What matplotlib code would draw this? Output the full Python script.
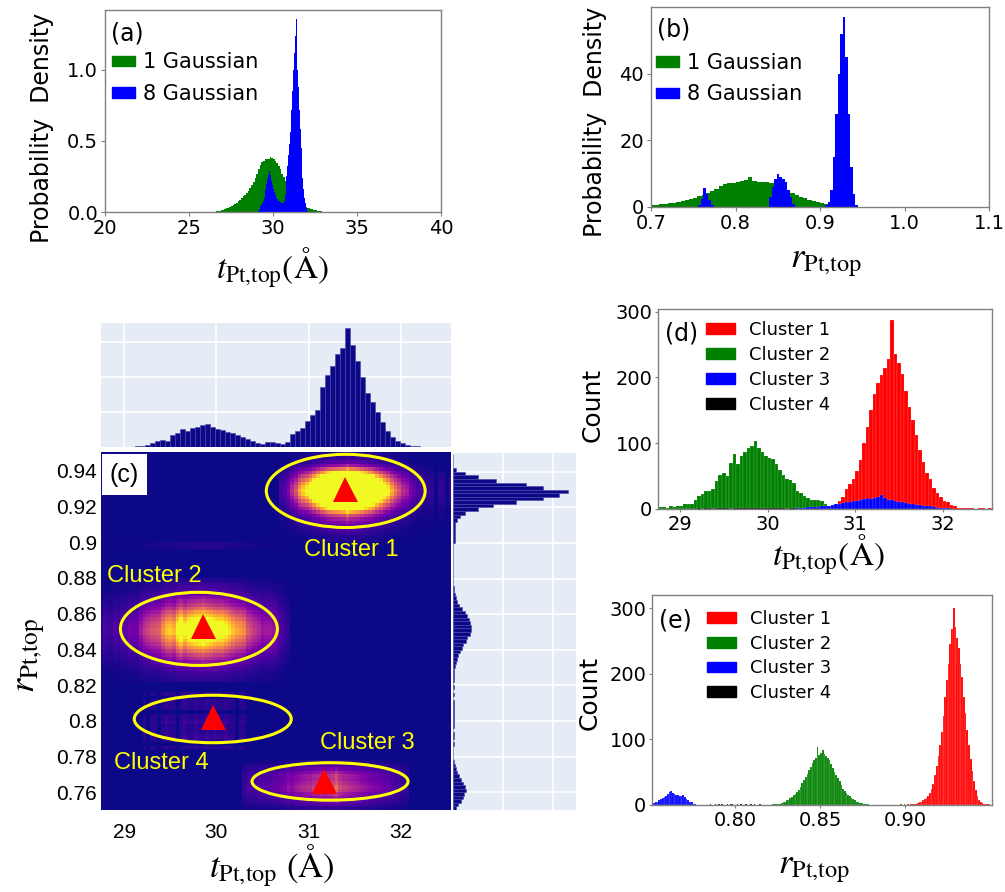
import numpy as np
import matplotlib
matplotlib.use("Agg")
import matplotlib.pyplot as plt
from matplotlib.colors import PowerNorm
from matplotlib.patches import Ellipse, Patch, Rectangle

# ---------------- data ----------------
# (a) probability density of t_Pt,top
A_GREEN_START, A_GREEN_BIN = 26.5, 0.1
a_green = [0.003, 0.004, 0.006, 0.008, 0.011, 0.015, 0.02, 0.025, 0.03, 0.035,
           0.04, 0.05, 0.058, 0.066, 0.075, 0.085, 0.1, 0.11, 0.12, 0.135,
           0.15, 0.17, 0.19, 0.21, 0.24, 0.27, 0.30, 0.33, 0.35, 0.36,
           0.37, 0.375, 0.37, 0.385, 0.38, 0.37, 0.36, 0.345, 0.32, 0.30,
           0.27, 0.245, 0.22, 0.20, 0.17, 0.15, 0.12, 0.10, 0.085, 0.07,
           0.06, 0.05, 0.045, 0.04, 0.035, 0.03, 0.025, 0.02, 0.018, 0.015,
           0.012, 0.01, 0.008, 0.005, 0.003]
A_BLUE_START, A_BLUE_BIN = 29.1, 0.05
a_blue = [0.01, 0.02, 0.03, 0.04, 0.05, 0.065, 0.08, 0.10, 0.13, 0.16,
          0.20, 0.23, 0.26, 0.29, 0.30, 0.26, 0.22, 0.19, 0.16, 0.14,
          0.12, 0.11, 0.10, 0.09, 0.08, 0.075, 0.07, 0.065, 0.06, 0.06,
          0.065, 0.08, 0.12, 0.18, 0.25, 0.32, 0.40, 0.48, 0.56, 0.64,
          0.72, 0.85, 1.00, 1.12, 1.24, 1.36, 1.20, 1.00, 0.88, 0.72,
          0.58, 0.45, 0.34, 0.24, 0.16, 0.10, 0.06, 0.03, 0.015, 0.005]

# (b) probability density of r_Pt,top
B_GREEN_START, B_GREEN_BIN = 0.700, 0.005
b_green = [0.5, 0.7, 0.9, 1.0, 1.1, 1.3, 1.5, 1.8, 2.1, 2.4,
           2.8, 3.2, 3.7, 4.2, 4.8, 5.5, 6.2, 6.8, 7.1, 7.3,
           7.5, 7.7, 8.0, 9.0, 7.8, 7.6, 7.5, 7.4, 7.2, 6.9,
           6.3, 5.6, 4.9, 4.2, 3.6, 3.1, 2.6, 2.2, 1.9, 1.6,
           1.2, 0.9, 0.6]
B_BLUE_START, B_BLUE_BIN = 0.750, 0.003
b_blue = ([0, 0, 0.5, 2.5, 5.7, 4.0, 2.0, 0.5] + [0] * 22 +
          [3.0, 6.0, 8.5, 10.0, 9.0, 8.5, 7.5, 5.0, 3.0, 1.0] + [0] * 12 +
          [0.5, 1.5, 5, 15, 28, 40, 52, 57, 45, 28, 12, 4, 0.5])

# (c) marginal histograms of the joint plot (in grid units)
TOP_START, TOP_BIN = 28.90, 0.0542
top_marg = [0.01, 0.01, 0.01, 0.01, 0.02, 0.03, 0.06, 0.12, 0.17, 0.19,
            0.17, 0.33, 0.39, 0.50, 0.45, 0.53, 0.58, 0.63, 0.65, 0.58,
            0.50, 0.48, 0.43, 0.40, 0.35, 0.28, 0.24, 0.17, 0.12, 0.08,
            0.14, 0.13, 0.10, 0.08, 0.15, 0.38, 0.45, 0.55, 0.75, 0.92,
            1.05, 1.70, 2.05, 2.30, 2.65, 2.82, 3.40, 2.90, 2.45, 2.00,
            1.55, 1.28, 1.00, 0.72, 0.45, 0.28, 0.17, 0.10, 0.05, 0.03,
            0.02, 0.01, 0.01]
RIGHT_START, RIGHT_BIN = 0.750, 0.002
right_marg = ([0.05, 0.10, 0.15, 0.20, 0.22, 0.25, 0.24, 0.20, 0.16, 0.12,
               0.08, 0.05, 0.03, 0.01, 0, 0, 0, 0, 0.01, 0,
               0.01, 0.01, 0, 0.01, 0.02, 0.01, 0.02, 0.01, 0.01, 0.02,
               0.01, 0, 0.01, 0, 0.01, 0, 0.01, 0.01, 0.01, 0.02,
               0.03, 0.05, 0.07, 0.10, 0.13, 0.17, 0.20, 0.25, 0.28, 0.33,
               0.35, 0.36, 0.34, 0.32, 0.28, 0.23, 0.17, 0.12, 0.08, 0.05,
               0.03, 0.02, 0.01] + [0] * 12 +
              [0.03, 0.03, 0.03, 0.03, 0.03, 0.03, 0.07, 0.13, 0.23, 0.50,
               0.80, 1.26, 1.79, 2.12, 2.30, 1.79, 1.46, 0.86, 0.50, 0.23,
               0.05, 0, 0, 0, 0])

# cluster centres, ellipses and labels in (c)
cl_names = ["Cluster 1", "Cluster 2", "Cluster 3", "Cluster 4"]
cl_tri_t = [31.39, 29.85, 31.17, 29.96]
cl_tri_r = [0.9297, 0.853, 0.766, 0.802]
cl_ell_t = [31.40, 29.81, 31.23, 29.96]
cl_ell_r = [0.9288, 0.8515, 0.766, 0.801]
cl_ell_w = [1.72, 1.70, 1.69, 1.70]
cl_ell_h = [0.041, 0.041, 0.021, 0.0266]
cl_lab_t = [30.95, 28.82, 31.12, 28.89]
cl_lab_r = [0.8955, 0.8810, 0.7877, 0.7764]

# (d) counts of t_Pt,top per cluster (bin 0.04)
D_BIN = 0.04
d_starts = [30.68, 28.76, 30.28, 29.20]
d_c1 = [2, 3, 6, 12, 18, 30, 38, 45, 58, 75,
        100, 125, 150, 175, 192, 203, 215, 228, 287, 235,
        222, 205, 180, 155, 135, 112, 90, 72, 55, 45,
        32, 24, 18, 12, 10, 6, 4, 2, 2, 1,
        1, 1, 0, 1, 1, 0, 1]
d_c2 = [3, 3, 2, 4, 3, 5, 5, 8, 7, 7,
        14, 20, 23, 27, 28, 30, 42, 52, 55, 50,
        70, 84, 68, 81, 86, 92, 96, 103, 93, 87,
        80, 77, 76, 68, 60, 52, 46, 44, 40, 28,
        24, 20, 17, 13, 14, 14, 12, 8, 4, 2, 1]
d_c3 = [1, 2, 2, 2, 3, 3, 3, 3, 4, 4,
        5, 6, 8, 7, 9, 10, 11, 12, 12, 14,
        15, 16, 15, 17, 18, 22, 16, 14, 13, 12,
        11, 10, 9, 8, 7, 6, 6, 5, 4, 4,
        3, 2, 2, 1, 1]
d_c4 = [1, 0, 1, 1, 0, 1, 2, 1, 1, 0, 1, 2, 1, 1, 2, 1, 1, 2, 1, 2,
        1, 1, 2, 1, 1, 0, 1, 1]

# (e) counts of r_Pt,top per cluster (bin 0.001)
E_BIN = 0.001
e_starts = [0.900, 0.822, 0.751, 0.785]
e_c1 = [0, 1, 0, 1, 1, 2, 2, 3, 4, 5,
        7, 9, 11, 14, 18, 24, 32, 45, 60, 75,
        92, 112, 135, 165, 190, 215, 245, 268, 300, 272,
        255, 240, 215, 195, 165, 140, 115, 92, 70, 52,
        36, 23, 14, 8, 5, 3, 2, 1, 1, 1]
e_c2 = [1, 1, 1, 2, 2, 3, 4, 5, 7, 8,
        10, 12, 15, 17, 20, 23, 28, 33, 38, 43,
        48, 53, 58, 64, 68, 72, 89, 76, 80, 84,
        78, 74, 72, 68, 62, 56, 51, 46, 41, 36,
        30, 25, 21, 18, 16, 13, 11, 9, 7, 5,
        4, 3, 3, 2, 2, 1, 1, 0, 0, 0,
        0, 0, 0, 0, 0, 0, 0, 0, 0, 0,
        0, 0, 0, 0, 0, 1, 0, 1, 0, 0]
e_c3 = [2, 3, 4, 5, 7, 9, 10, 12, 14, 17,
        20, 22, 18, 17, 16, 15, 13, 14, 15, 12,
        9, 7, 5, 4, 2, 1]
e_c4 = [1, 0, 0, 1, 0, 2, 0, 1, 0, 0, 1, 0, 1, 2, 0, 0, 1, 0, 1, 0,
        0, 1, 0, 0, 1, 0, 1, 0, 0, 1]

CLUSTER_COLORS = ["#ff0000", "#008000", "#0000ff", "#000000"]
GREEN = "#008000"
BLUE = "#0000ff"
NAVY = "#0d0887"
PLOTLY_BG = "#e5ecf6"
T_LIM = (28.75, 32.54)
R_LIM = (0.750, 0.9506)

plt.rcParams["mathtext.fontset"] = "stix"
plt.rcParams["font.family"] = "DejaVu Sans"

W, H = 1005, 892
fig = plt.figure(figsize=(W / 100, H / 100), dpi=100)

T_LABEL = r"$t_{\mathrm{Pt{,}top}}(\mathrm{\AA})$"
R_LABEL = r"$r_{\mathrm{Pt{,}top}}$"


def px_axes(x0, y0, x1, y1):
    return fig.add_axes([x0 / W, 1 - y1 / H, (x1 - x0) / W, (y1 - y0) / H])


def px_text(x, y, s, **kw):
    kw.setdefault("ha", "center")
    kw.setdefault("va", "center")
    fig.text(x / W, 1 - y / H, s, **kw)


def edges(start, width, n):
    return start + width * np.arange(n + 1)


def box_style(ax):
    for sp in ax.spines.values():
        sp.set_color("#808080")
        sp.set_linewidth(1.0)
    ax.tick_params(labelsize=14, length=3, width=0.8, color="#808080", pad=2)


def density_panel(rect, tag, green, gstart, gbin, blue, bstart, bbin,
                  xlim, ylim, xticks, yticks, xfmt, yfmt, leg_x, leg_y):
    ax = px_axes(*rect)
    ax.stairs(green, edges(gstart, gbin, len(green)), fill=True, color=GREEN)
    ax.stairs(blue, edges(bstart, bbin, len(blue)), fill=True, color=BLUE)
    ax.set_xlim(*xlim)
    ax.set_ylim(*ylim)
    ax.set_xticks(xticks)
    ax.set_xticklabels([xfmt.format(v) for v in xticks])
    ax.set_yticks(yticks)
    ax.set_yticklabels([yfmt.format(v) for v in yticks])
    box_style(ax)
    ax.text(0.018, 0.885, tag, transform=ax.transAxes, fontsize=17,
            ha="left", va="center")
    handles = [Patch(color=GREEN, label="1 Gaussian"),
               Patch(color=BLUE, label="8 Gaussian")]
    ax.legend(handles=handles, loc="upper left", bbox_to_anchor=(leg_x, leg_y),
              frameon=False, fontsize=15, borderpad=0, borderaxespad=0,
              handlelength=1.1, handleheight=0.4, handletextpad=0.4,
              labelspacing=0.55)
    return ax


# ---------------- (a) ----------------
density_panel((105, 10, 441, 212), "(a)", a_green, A_GREEN_START, A_GREEN_BIN,
              a_blue, A_BLUE_START, A_BLUE_BIN, (20, 40), (0, 1.42),
              [20, 25, 30, 35, 40], [0.0, 0.5, 1.0], "{:g}", "{:.1f}",
              0.02, 0.79)
px_text(42, 128, "Probability  Density", rotation=90, fontsize=17)
px_text(272, 268, T_LABEL, fontsize=24)

# ---------------- (b) ----------------
density_panel((651, 7, 989, 207), "(b)", b_green, B_GREEN_START, B_GREEN_BIN,
              b_blue, B_BLUE_START, B_BLUE_BIN, (0.7, 1.1), (0, 60),
              [0.7, 0.8, 0.9, 1.0, 1.1], [0, 20, 40], "{:.1f}", "{:g}",
              0.015, 0.77)
px_text(595, 122, "Probability  Density", rotation=90, fontsize=17)
px_text(826, 262, R_LABEL, fontsize=25)

# ---------------- (c) joint plot ----------------
# joint map built from the per-cluster t and r histograms of (d) and (e)
T_EDGES = edges(28.76, D_BIN, 95)
R_EDGES = edges(0.750, 2 * E_BIN, 100)
joint = np.zeros((100, 95))
for ts, tc, rs, rc in zip(d_starts, [d_c1, d_c2, d_c3, d_c4],
                          e_starts, [e_c1, e_c2, e_c3, e_c4]):
    t_full = np.zeros(95)
    i0 = int(round((ts - 28.76) / D_BIN))
    t_full[i0:i0 + len(tc)] = tc
    r_fine = np.zeros(200)
    j0 = int(round((rs - 0.750) / E_BIN))
    r_fine[j0:j0 + len(rc)] = rc
    r_full = r_fine.reshape(100, 2).sum(axis=1)
    joint += np.outer(r_full / r_full.sum(), t_full)

ax_c = px_axes(101, 452, 451, 810)
ax_c.set_facecolor(NAVY)
ax_c.pcolormesh(T_EDGES, R_EDGES, joint, cmap="plasma",
                norm=PowerNorm(gamma=0.7, vmin=0, vmax=6),
                shading="flat", rasterized=True)
for i in range(4):
    ax_c.add_patch(Ellipse((cl_ell_t[i], cl_ell_r[i]), cl_ell_w[i], cl_ell_h[i],
                           fill=False, edgecolor="#ffff00", linewidth=2.2))
    ax_c.text(cl_lab_t[i], cl_lab_r[i], cl_names[i], color="#ffff00",
              fontsize=17, family="Liberation Sans", ha="left", va="center")
ax_c.plot(cl_tri_t, cl_tri_r, "^", color="red", markersize=18,
          markeredgewidth=0)
ax_c.set_xlim(*T_LIM)
ax_c.set_ylim(*R_LIM)
r_ticks = [0.76, 0.78, 0.80, 0.82, 0.84, 0.86, 0.88, 0.90, 0.92, 0.94]
ax_c.set_yticks(r_ticks)
ax_c.set_yticklabels([f"{v:g}" for v in r_ticks])
ax_c.set_xticks([29, 30, 31, 32])
ax_c.set_xticklabels(["29", "30", "31", "32"])
for lab in ax_c.get_xticklabels() + ax_c.get_yticklabels():
    lab.set_family("Liberation Sans")
ax_c.tick_params(length=0, labelsize=15, pad=3)
ax_c.tick_params(axis="x", pad=9)
for sp in ax_c.spines.values():
    sp.set_visible(False)
ax_c.add_patch(Rectangle((0.003, 0.879), 0.129, 0.115, transform=ax_c.transAxes,
                         facecolor="white", edgecolor="none", zorder=5))
ax_c.text(0.067, 0.937, "(c)", transform=ax_c.transAxes, fontsize=18,
          family="Liberation Sans", ha="center", va="center", zorder=6)
px_text(31, 655, R_LABEL, rotation=90, fontsize=26)
px_text(272, 866, r"$t_{\mathrm{Pt{,}top}}\ (\mathrm{\AA})$", fontsize=25)

# top marginal
ax_top = px_axes(101, 323, 451, 447)
ax_top.set_facecolor(PLOTLY_BG)
ax_top.bar(edges(TOP_START, TOP_BIN, len(top_marg))[:-1], top_marg,
           width=TOP_BIN, align="edge", color=NAVY, edgecolor="#4a45a8",
           linewidth=0.4, zorder=3)
ax_top.set_xlim(*T_LIM)
ax_top.set_ylim(0, 3.54)
ax_top.set_xticks([29, 30, 31, 32])
ax_top.set_yticks([1, 2, 3])
ax_top.grid(True, color="white", linewidth=1.2, zorder=0)
ax_top.tick_params(length=0, labelbottom=False, labelleft=False)
for sp in ax_top.spines.values():
    sp.set_visible(False)

# right marginal
ax_right = px_axes(453, 453, 576, 810)
ax_right.set_facecolor(PLOTLY_BG)
ax_right.barh(edges(RIGHT_START, RIGHT_BIN, len(right_marg))[:-1], right_marg,
              height=RIGHT_BIN, align="edge", color=NAVY, edgecolor="#4a45a8",
              linewidth=0.4, zorder=3)
ax_right.set_ylim(*R_LIM)
ax_right.set_xlim(0, 2.46)
ax_right.set_yticks(r_ticks)
ax_right.set_xticks([1, 2])
ax_right.grid(True, color="white", linewidth=1.2, zorder=0)
ax_right.tick_params(length=0, labelbottom=False, labelleft=False)
for sp in ax_right.spines.values():
    sp.set_visible(False)


# ---------------- (d) and (e) ----------------
def cluster_panel(rect, tag, starts, series, width, order, xlim, ylim, xticks,
                  xfmt, leg_x, leg_y):
    ax = px_axes(*rect)
    for k in order:
        vals = series[k]
        ax.bar(edges(starts[k], width, len(vals))[:-1], vals, width=width,
               align="edge", color=CLUSTER_COLORS[k],
               edgecolor=(1, 1, 1, 0.35), linewidth=0.3)
    ax.set_xlim(*xlim)
    ax.set_ylim(*ylim)
    ax.set_xticks(xticks)
    ax.set_xticklabels([xfmt.format(v) for v in xticks])
    ax.set_yticks([0, 100, 200, 300])
    box_style(ax)
    ax.tick_params(length=2)
    ax.text(0.02, 0.88, tag, transform=ax.transAxes, fontsize=17,
            ha="left", va="center")
    handles = [Patch(color=CLUSTER_COLORS[k], label=cl_names[k]) for k in range(4)]
    ax.legend(handles=handles, loc="upper left", bbox_to_anchor=(leg_x, leg_y),
              frameon=False, fontsize=13, borderpad=0, borderaxespad=0,
              handlelength=1.6, handleheight=0.55, handletextpad=0.8,
              labelspacing=0.38)
    return ax


cluster_panel((658, 309, 992, 509), "(d)", d_starts, [d_c1, d_c2, d_c3, d_c4],
              D_BIN, [1, 0, 2, 3], (28.75, 32.56), (0, 304),
              [29, 30, 31, 32], "{:g}", 0.144, 0.94)
px_text(593, 405, "Count", rotation=90, fontsize=18)
px_text(828, 555, T_LABEL, fontsize=24)

cluster_panel((652, 595, 992, 805), "(e)", e_starts, [e_c1, e_c2, e_c3, e_c4],
              E_BIN, [0, 1, 2, 3], (0.7512, 0.951), (0, 320),
              [0.80, 0.85, 0.90], "{:.2f}", 0.162, 0.93)
px_text(590, 693, "Count", rotation=90, fontsize=18)
px_text(814, 868, R_LABEL, fontsize=25)

fig.savefig("out.png", dpi=100)
